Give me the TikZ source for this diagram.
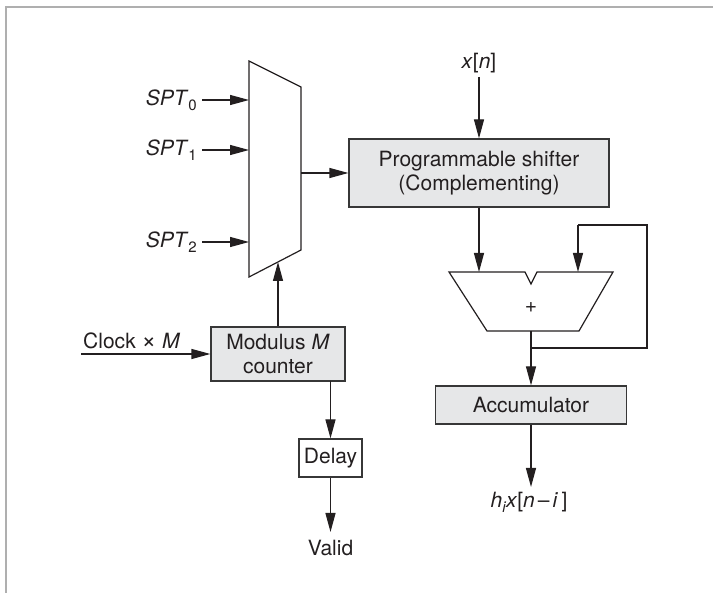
\documentclass[tikz,border=0pt]{standalone}
\usepackage{fontspec}
\setmainfont{TeX Gyre Heros}
\usetikzlibrary{arrows.meta}
\definecolor{boxfill}{RGB}{230,231,232}
\definecolor{edge}{RGB}{55,55,55}
\definecolor{ink}{RGB}{35,31,32}
\definecolor{frame}{RGB}{175,175,175}
\newcommand{\sbs}[1]{\raisebox{-0.45ex}{\fontsize{15}{15}\selectfont #1}}
\newcommand{\tms}{{\fontsize{25}{25}\selectfont ×}}
\begin{document}
\begin{tikzpicture}[x=1pt,y=-1pt,
  every node/.style={text=ink,font=\fontsize{21}{24}\selectfont},
  line/.style={draw=ink,line width=1.2pt},
  arr/.style={line,-{Triangle[length=19pt,width=10pt]}},
  graybox/.style={draw=edge,line width=1.2pt,fill=boxfill,align=center,inner sep=0pt},
  whitebox/.style={draw=edge,line width=1.2pt,fill=white,align=center,inner sep=0pt},
  lbl/.style={inner sep=0pt}]
\useasboundingbox (0,0) rectangle (713,593);
% frame
\draw[frame,line width=1.5pt] (6,593) -- (6,7) -- (713,7);
% multiplexer
\draw[line] (249,61) -- (301,87) -- (301,250) -- (249,277) -- cycle;
\coordinate (m0) at (249,100);
\coordinate (m1) at (249,150);
\coordinate (m2) at (249,242);
\coordinate (mout) at (301,173);
\coordinate (mbot) at (278,262);
\node[lbl,anchor=east] (spt0) at (197,100) {\textit{SPT}\sbs{0}};
\node[lbl,anchor=east] (spt1) at (197,150) {\textit{SPT}\sbs{1}};
\node[lbl,anchor=east] (spt2) at (197,242) {\textit{SPT}\sbs{2}};
\coordinate (s0) at (202,100);
\coordinate (s1) at (202,150);
\coordinate (s2) at (202,242);
\draw[arr] (s0) -- (m0);
\draw[arr] (s1) -- (m1);
\draw[arr] (s2) -- (m2);
% shifter
\node[graybox,minimum width=260pt,minimum height=68pt] (shift) at (479,173)
  {Programmable shifter\\(Complementing)};
\draw[arr] (mout) -- (shift.west);
\node[lbl] (xn) at (479,63) {\textit{x}[\textit{n}]};
\coordinate (xs) at (479,77);
\draw[arr] (xs) -- (shift.north);
% adder
\draw[line] (449,272) -- (525,272) -- (531,284) -- (537,272) -- (613,272)
  -- (579,331) -- (487,331) -- cycle;
\node[lbl] (plus) at (531,308) {+};
\coordinate (ain1) at (479,272);
\coordinate (ain2) at (578,272);
\coordinate (aout) at (531,331);
\coordinate (j) at (531,348);
\coordinate (f1) at (647,348);
\coordinate (f2) at (647,225);
\coordinate (f3) at (578,225);
\draw[arr] (shift.south) -- (ain1);
\draw[line] (j) -- (f1) -- (f2) -- (f3);
\draw[arr] (f3) -- (ain2);
% accumulator
\node[graybox,minimum width=191pt,minimum height=38pt] (acc) at (531,405) {Accumulator};
\draw[arr] (aout) -- (acc.north);
\node[lbl] (hx) at (529,502) {\textit{h}\sbs{\textit{i}}\textit{x}[\textit{n}\kern3pt–\kern3pt\textit{i}\,]};
\coordinate (hxt) at (531,487);
\draw[arr] (acc.south) -- (hxt);
% counter
\node[graybox,minimum width=134pt,minimum height=54pt] (cnt) at (278,354)
  {Modulus \textit{M}\\counter};
\draw[arr] (cnt.north) -- (mbot);
\node[lbl,anchor=west] (clk) at (83,341) {Clock \tms\ \textit{M}};
\coordinate (clks) at (81,354);
\draw[arr] (clks) -- (cnt.west);
% delay
\node[whitebox,minimum width=63pt,minimum height=38pt] (del) at (330.5,458) {Delay};
\coordinate (cb) at (330.5,381);
\draw[arr] (cb) -- (del.north);
\node[lbl] (valid) at (330.5,548) {Valid};
\coordinate (vt) at (330.5,532);
\draw[arr] (del.south) -- (vt);
\end{tikzpicture}
\end{document}
